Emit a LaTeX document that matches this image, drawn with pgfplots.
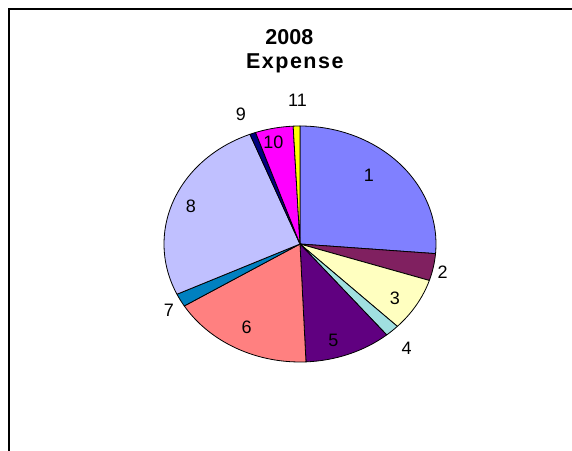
\documentclass[border=0pt]{standalone}
\usepackage{fontspec}
\setmainfont{Liberation Sans}
\usepackage{pgfplots}
\usepackage{pgfplotstable}
\pgfplotsset{compat=1.18}

\definecolor{c1}{HTML}{8080FF}
\definecolor{c2}{HTML}{802060}
\definecolor{c3}{HTML}{FFFFC0}
\definecolor{c4}{HTML}{A0E0E0}
\definecolor{c5}{HTML}{600080}
\definecolor{c6}{HTML}{FF8080}
\definecolor{c7}{HTML}{0080C0}
\definecolor{c8}{HTML}{C0C0FF}
\definecolor{c9}{HTML}{000080}
\definecolor{c10}{HTML}{FF00FF}
\definecolor{c11}{HTML}{FFFF00}

\pgfplotstableread{
val col
26.3 c1
3.7 c2
7.3 c3
1.7 c4
10.3 c5
16.9 c6
1.8 c7
26.0 c8
0.7 c9
4.5 c10
0.8 c11
}\pietable

\begin{document}
\begin{tikzpicture}
\def\cum{0}
\pgfplotsforeachungrouped \i in {0,...,10}{%
  \pgfplotstablegetelem{\i}{val}\of\pietable
  \pgfmathsetmacro\a{90-3.6*\cum}%
  \pgfmathsetmacro\cum{\cum+\pgfplotsretval}%
  \pgfmathsetmacro\b{90-3.6*\cum}%
  \expandafter\xdef\csname sa\i\endcsname{\a}%
  \expandafter\xdef\csname sb\i\endcsname{\b}%
  \pgfplotstablegetelem{\i}{col}\of\pietable
  \expandafter\xdef\csname sc\i\endcsname{\pgfplotsretval}%
}
\begin{axis}[hide axis, x=136bp, y=118bp,
  xmin=-1.2, xmax=1.2, ymin=-1.2, ymax=1.2,
  at={(0,0)}, anchor=origin, clip=false]
\pgfplotsinvokeforeach{0,...,10}{
  \filldraw[fill=\csname sc#1\endcsname, draw=black, line width=0.8bp, line join=round]
    (axis cs:0,0) -- ++(\csname sa#1\endcsname:136bp and 118bp)
    arc[start angle=\csname sa#1\endcsname, end angle=\csname sb#1\endcsname,
        x radius=136bp, y radius=118bp] -- cycle;
}
\end{axis}
\begin{scope}[font=\fontsize{18bp}{20bp}\selectfont, inner sep=0pt]
\node at (69bp,69bp) {1};
\node at (142.7bp,-28.7bp) {2};
\node at (95bp,-54bp) {3};
\node at (106.7bp,-104.3bp) {4};
\node at (33.3bp,-96.7bp) {5};
\node at (-53.3bp,-83.3bp) {6};
\node at (-131bp,-66bp) {7};
\node at (-109bp,37.3bp) {8};
\node at (-59bp,130bp) {9};
\node at (-26.5bp,102bp) {10};
\node at (-2.5bp,143.5bp) {11};
\end{scope}
\node[anchor=base, inner sep=0pt, font=\fontsize{21.5bp}{24bp}\selectfont\bfseries] at (-10.6bp,199bp) {2008};
\node[anchor=base, inner sep=0pt, font=\fontsize{21.5bp}{24bp}\selectfont\bfseries\addfontfeature{LetterSpace=7}] at (-5.2bp,175bp) {Expense};
\draw[line width=2bp, black] (-290.5bp,-210bp) -- (-290.5bp,234.5bp) -- (275bp,234.5bp);
\pgfresetboundingbox
\path[use as bounding box] (-300bp,-207bp) rectangle (272bp,244bp);
\end{tikzpicture}
\end{document}
